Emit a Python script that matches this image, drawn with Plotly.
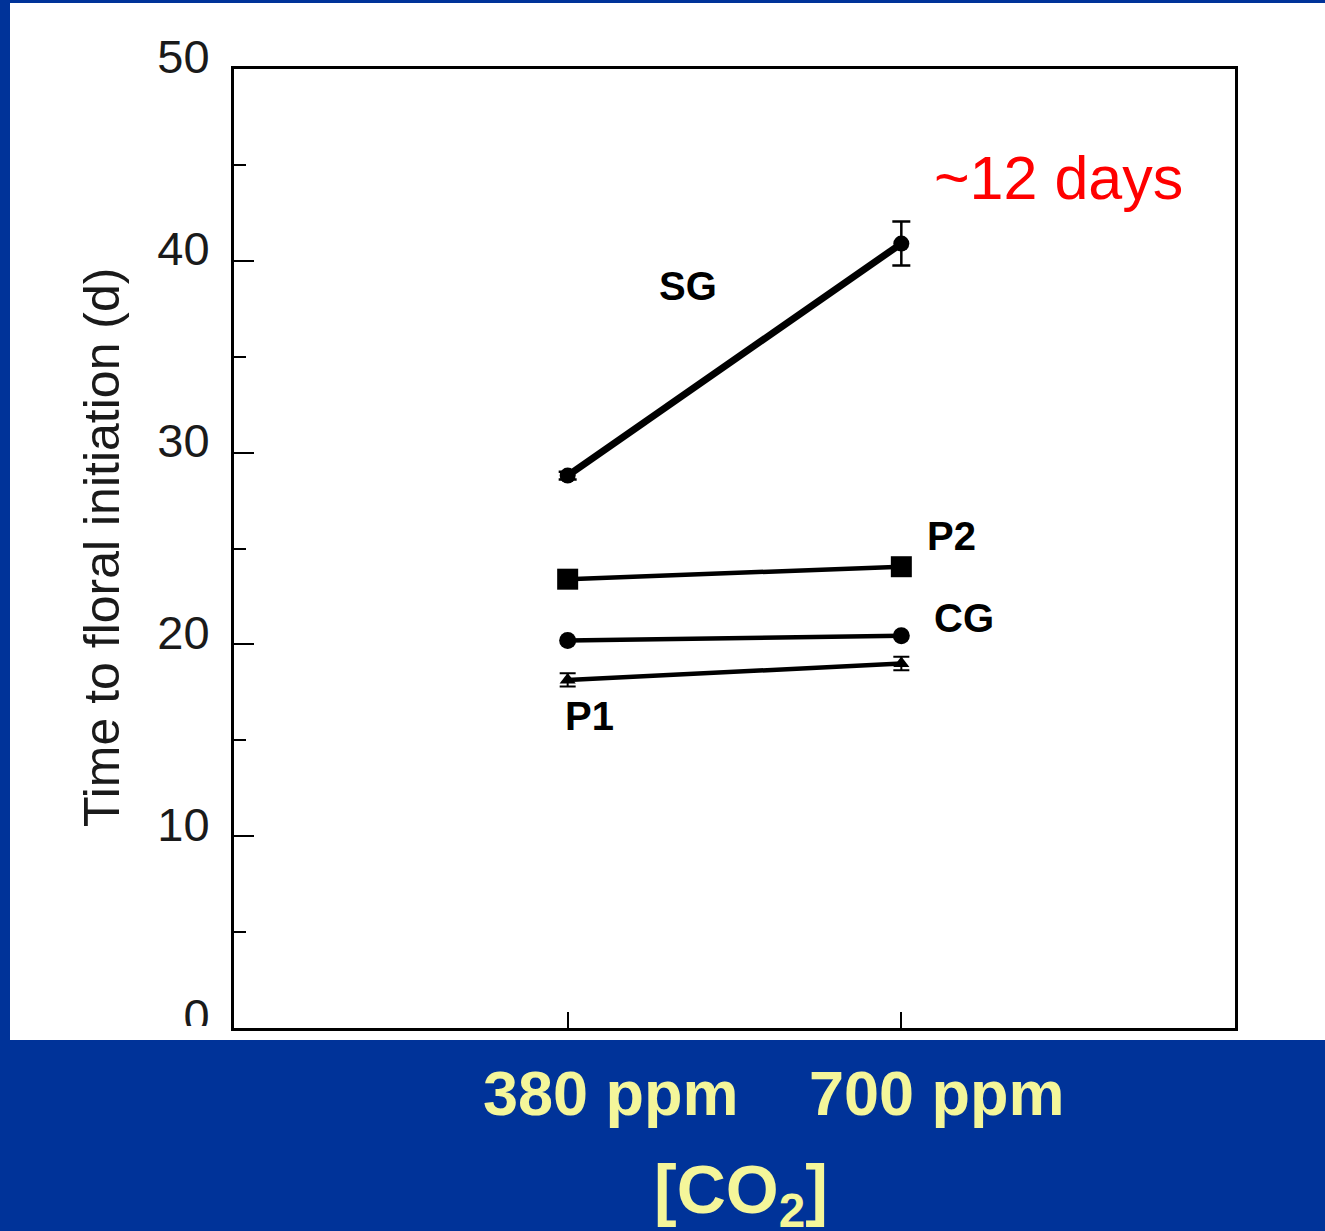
import plotly.graph_objects as go

W, H = 1325, 1231

# ---- data ----
co2_levels = ["380 ppm", "700 ppm"]
sg = [28.8, 40.9]
sg_err = [0.2, 1.15]
p2 = [23.4, 24.05]
cg = [20.2, 20.45]
p1 = [18.15, 19.0]
p1_err = [0.35, 0.35]
series_names = ["SG", "P2", "CG", "P1"]

y_ticks = [0, 10, 20, 30, 40, 50]

BLUE = "#003399"
YELLOW = "#F4F69A"
FONT = "Liberation Sans, Arial, sans-serif"


def px(x):
    return x / W


def py(y):
    return 1 - y / H


fig = go.Figure()

fig.add_trace(go.Scatter(
    x=co2_levels, y=sg, mode="lines+markers", name="SG",
    line=dict(color="black", width=7),
    marker=dict(symbol="circle", size=16, color="black"),
    error_y=dict(type="data", array=sg_err, color="black", thickness=2.5, width=9),
))
fig.add_trace(go.Scatter(
    x=co2_levels, y=p2, mode="lines+markers", name="P2",
    line=dict(color="black", width=4.5),
    marker=dict(symbol="square", size=21, color="black"),
))
fig.add_trace(go.Scatter(
    x=co2_levels, y=cg, mode="lines+markers", name="CG",
    line=dict(color="black", width=4.5),
    marker=dict(symbol="circle", size=17, color="black"),
))
fig.add_trace(go.Scatter(
    x=co2_levels, y=p1, mode="lines+markers", name="P1",
    line=dict(color="black", width=4.5),
    marker=dict(symbol="triangle-up", size=14, color="black"),
    error_y=dict(type="data", array=p1_err, color="black", thickness=2, width=8),
))

# white panel behind everything, blue band covering the bottom
shapes = [
    dict(type="rect", xref="paper", yref="paper", layer="below",
         x0=px(10), x1=1, y0=py(1040), y1=py(3),
         fillcolor="white", line=dict(width=0)),
    dict(type="rect", xref="paper", yref="paper", layer="above",
         x0=px(120), x1=px(226), y0=py(1040), y1=py(1026),
         fillcolor="white", line=dict(width=0)),
    dict(type="rect", xref="paper", yref="paper", layer="above",
         x0=0, x1=1, y0=0, y1=py(1040),
         fillcolor=BLUE, line=dict(width=0)),
]


def label(text, x, y, size, color, **kw):
    d = dict(text=text, x=x, y=y, xref="paper", yref="paper",
             xanchor="center", yanchor="middle", showarrow=False,
             font=dict(family=FONT, size=size, color=color))
    d.update(kw)
    return d


annotations = [
    label("<b>SG</b>", px(688), py(286), 40, "black"),
    label("<b>P2</b>", px(951), py(536), 40, "black"),
    label("<b>CG</b>", px(964), py(618), 40, "black"),
    label("<b>P1</b>", px(589), py(716), 40, "black"),
    label("~12 days", px(1058), py(178), 61, "#FF0000"),
    label("Time to floral initiation (d)", px(102), py(548), 50, "#1a1a1a",
          textangle=-90),
    label("<b>" + co2_levels[0] + "</b>", co2_levels[0], py(1093), 63, YELLOW,
          xref="x", xshift=43),
    label("<b>" + co2_levels[1] + "</b>", co2_levels[1], py(1093), 63, YELLOW,
          xref="x", xshift=36),
    label("<b>[CO<sub>2</sub>]</b>", px(741), py(1194), 68, YELLOW),
]

fig.update_layout(
    width=W, height=H,
    margin=dict(l=0, r=0, t=0, b=0, autoexpand=False),
    paper_bgcolor=BLUE,
    plot_bgcolor="white",
    showlegend=False,
    shapes=shapes,
    annotations=annotations,
    xaxis=dict(
        type="category", categoryorder="array", categoryarray=co2_levels,
        range=[-1, 2], domain=[px(234), px(1235)],
        automargin=False,
        showgrid=False, zeroline=False,
        showline=True, linecolor="black", linewidth=3, mirror=True,
        ticks="inside", ticklen=16, tickwidth=2, tickcolor="black",
        showticklabels=False,
    ),
    yaxis=dict(
        range=[0, 50], domain=[py(1028), py(69)],
        automargin=False,
        tickvals=y_ticks,
        showgrid=False, zeroline=False,
        showline=True, linecolor="black", linewidth=3, mirror=True,
        ticks="inside", ticklen=20, tickwidth=2, tickcolor="black",
        minor=dict(dtick=5, ticks="inside", ticklen=12, tickwidth=2,
                   tickcolor="black"),
        tickfont=dict(family=FONT, size=47, color="#1a1a1a"),
        ticklabelshift=-12,
        ticklabelstandoff=12,
    ),
)

fig.write_html("out.html", config={"displayModeBar": False},
               post_script="document.body.style.margin='0';")
